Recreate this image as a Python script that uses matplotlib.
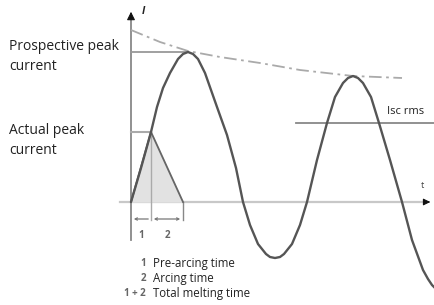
import numpy as np
import matplotlib.pyplot as plt

# diagram units: t to the right of the current axis, i above the time axis
wave_t = [0, 10, 20, 26, 32, 39, 47, 52, 57, 62, 67, 74, 80, 86, 96, 105, 112,
          119, 127, 135, 139, 144, 149, 153, 161, 169, 176, 186, 196, 204, 212,
          217, 222, 227, 232, 240, 248, 259, 271, 281, 292, 297, 301, 305]
wave_i = [0, 34, 70, 95, 114, 129, 143, 148, 150, 148, 143, 129, 112, 95, 67, 34, 0,
          -23, -42, -52, -55, -56, -55, -52, -42, -23, 0, 42, 79, 105, 119,
          124, 126, 124, 119, 105, 79, 42, 0, -38, -68, -77, -83, -87]

env_t = [0, 29, 57, 89, 129, 169, 222, 271]
env_i = [172, 160, 151, 145, 139, 132, 126, 124]

prospective_peak = 150
actual_peak = 70
isc_rms = 79
t_prearc = 20
t_total = 52

tri_t = [0, t_prearc, t_total]
tri_i = [0, actual_peak, 0]

legend_nums = ["1", "2", "1 + 2"]
legend_text = ["Pre-arcing time", "Arcing time", "Total melting time"]

plt.rcParams['font.family'] = ['Open Sans', 'DejaVu Sans']

fig = plt.figure(figsize=(4.34, 3.05), dpi=100)
ax = fig.add_axes([0, 0, 1, 1])
ax.set_xlim(-131, 303)
ax.set_ylim(-103, 202)
ax.axis('off')

# axes
ax.plot([-11, 296], [0, 0], color='#c8c8c8', lw=1.6, zorder=1)
ax.annotate('', xy=(302, 0), xytext=(294, 0),
            arrowprops=dict(arrowstyle='-|>', color='#111', lw=0.8,
                            mutation_scale=10))
ax.plot([0, 0], [-38, 182], color='#888', lw=1.3, zorder=1)
ax.annotate('', xy=(0, 193), xytext=(0, 181),
            arrowprops=dict(arrowstyle='-|>', color='#111', lw=0.8,
                            mutation_scale=12))
ax.text(12, 190, 'I', fontsize=7.5, style='italic', fontweight='bold',
        color='#222', ha='center', va='center')
ax.text(291, 17, 't', fontsize=6.5, color='#444', ha='center', va='center')

# triangle
ax.fill(tri_t, tri_i, color='#e2e2e2', zorder=2)
ax.plot(tri_t, tri_i, color='#666', lw=1.3, zorder=3)

# guide lines
ax.plot([0, 57], [prospective_peak, prospective_peak], color='#999', lw=1.3, zorder=2)
ax.plot([0, t_prearc], [actual_peak, actual_peak], color='#aaa', lw=1.5, zorder=2)
ax.plot([165, 303], [isc_rms, isc_rms], color='#888', lw=1.3, zorder=2)
ax.plot([t_prearc, t_prearc], [actual_peak, -18], color='#aaa', lw=1.0, zorder=2)
ax.plot([t_total, t_total], [0, -18], color='#888', lw=1.0, zorder=2)
ax.annotate('', xy=(0, -17), xytext=(t_prearc, -17),
            arrowprops=dict(arrowstyle='->', color='#777', lw=0.9, mutation_scale=4))
ax.annotate('', xy=(t_prearc, -17), xytext=(t_total, -17),
            arrowprops=dict(arrowstyle='<->', color='#777', lw=0.9, mutation_scale=4))

# envelope and current
ax.plot(env_t, env_i, color='#aaa', lw=1.3, dashes=(7, 2.5, 1.5, 2.5), zorder=2)
ax.plot(wave_t, wave_i, color='#555', lw=1.7, zorder=4, solid_capstyle='round')

# labels
lab = dict(fontsize=10, color='#222', va='center')
ax.text(-122, 155, 'Prospective peak', **lab)
ax.text(-122, 135, 'current', **lab)
ax.text(-122, 72, 'Actual peak', **lab)
ax.text(-122, 52, 'current', **lab)
ax.text(256, 90, 'Isc rms', fontsize=8, color='#222', va='center')
ax.text(10, -33, '1', fontsize=7, fontweight='bold', color='#666', ha='center', va='center')
ax.text(36, -33, '2', fontsize=7, fontweight='bold', color='#666', ha='center', va='center')

for k, (n, s) in enumerate(zip(legend_nums, legend_text)):
    y = -61 - 15.5 * k
    ax.text(15, y, n, fontsize=7, fontweight='bold', color='#666', ha='right', va='center')
    ax.text(22, y, s, fontsize=8.3, color='#222', va='center')

fig.savefig('out.png', dpi=100)
